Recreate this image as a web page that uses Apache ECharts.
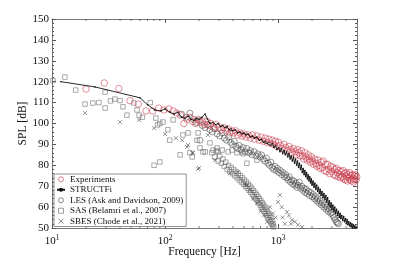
<!DOCTYPE html>
<html><head><meta charset="utf-8">
<script src="https://cdn.jsdelivr.net/npm/echarts@6/dist/echarts.min.js"></script>
<style>html,body{margin:0;padding:0;background:#fff}#c{width:395px;height:259px}</style>
</head><body><div id="c"></div>
<script>
// ---- data (frequency [Hz], SPL [dB]) ----
var seriesNames = ['Experiments', 'STRUCTFi', 'LES (Ask and Davidson, 2009)', 'SAS (Belamri et al., 2007)', 'SBES (Chode et al., 2021)'];
var xTickValues = [10, 100, 1000];
var yTickValues = [50, 60, 70, 80, 90, 100, 110, 120, 130, 140, 150];
var xMinorTicks = [20,30,40,50,60,70,80,90,200,300,400,500,600,700,800,900,2000,3000,4000];

var experiments = [[20,116.5],[29,119.4],[39,116.7],[49,110.9],[58,109.3],[68,106],[78,106],[88,107.4],[98,106.5],[108,107],[118,106],[127,105],[137,104],[147,100],[156,102],[166,103],[176,101],[186,100],[196,102],[205,100.5],[215,101],[225,99.5],[235,101],[245,99],[255,100],[270,98],[285,99.5],[300,98],[315,97],[330,98],[345,96.5],[360,97.5],[375,95.5],[390,96.5],[405,95.5],[420,96.5],[440,94.5],[460,95.5],[480,94],[500,95],[520,93.5],[545,94.5],[570,93],[595,94.5],[620,92.5],[650,94],[680,92],[710,93.5],[740,91.5],[770,93],[800,91],[830,92.5],[860,90.5],[890,92],[920,90],[950,91.5],[980,89],[1010,91],[1050,89.5],[1090,88],[1130,90],[1170,88.5],[1210,87],[1250,89],[1290,87.5],[1330,86],[1370,88],[1410,86.5],[1450,85],[1490,87.5],[1530,86],[1570,84.5],[1610,87],[1650,84.5],[1690,83],[1730,86],[1770,84],[1810,82.5],[1850,85],[1890,83],[1930,81.5],[1970,84],[2010,82],[2060,80.5],[2110,83],[2160,81],[2210,79.5],[2260,82.5],[2310,80],[2360,78.5],[2410,81.5],[2460,79],[2510,82],[2570,77.5],[2630,80.5],[2690,77],[2750,80.5],[2810,78],[2870,76],[2930,79.5],[2990,77],[3050,79],[3110,75.5],[3170,78],[3230,75],[3290,78.5],[3350,76.5],[3410,74.5],[3470,77.5],[3530,75.5],[3590,74],[3650,77],[3710,74.5],[3770,77.5],[3830,73.5],[3890,76],[3950,73],[4010,76.5],[4070,74.5],[4130,72.5],[4190,75.5],[4250,74],[4310,76.5],[4370,73],[4430,75],[4490,72.5],[4550,75.5],[4610,73.5],[4670,72],[4730,75],[4790,73.5],[4850,75.5],[4910,73],[4970,74.5]];

var structfi = [[12,120],[24,117.5],[60,112.3],[70,109],[81,106.5],[92,106],[100,107],[110,105.5],[120,104.5],[130,105.5],[140,103],[150,102.5],[160,103.5],[170,102],[180,101.5],[190,102.5],[200,102],[212,103],[226,104.5],[238,102],[250,100],[265,100.5],[280,99.5],[295,100],[310,98.5],[325,99],[340,98],[355,98.5],[370,97],[385,97.5],[400,96.5],[420,97],[440,95.5],[460,96],[480,95],[500,95.5],[520,94.5],[545,95],[570,93.5],[595,94],[620,93],[650,93.5],[680,92],[710,92.5],[740,91],[770,91.5],[800,90.5],[830,91],[860,89.5],[890,90.5],[920,88.5],[950,89.5],[980,87.5],[1010,88.5],[1040,86.5],[1070,88],[1100,85.5],[1130,87],[1160,85],[1190,86.5],[1220,84],[1250,85.5],[1280,83],[1310,84.5],[1340,82],[1370,84],[1400,81],[1430,83],[1460,80],[1490,82],[1520,79],[1550,81],[1580,78],[1610,80],[1640,76.5],[1670,78.5],[1700,75.5],[1730,77.5],[1760,74.5],[1790,76.5],[1820,73.5],[1850,75.5],[1880,72.5],[1910,74.5],[1940,71.5],[1970,73.5],[2000,70.5],[2040,72.5],[2080,69.5],[2120,71.5],[2160,68.5],[2200,70.5],[2240,67.5],[2280,69.5],[2320,66.5],[2360,68.5],[2400,65.5],[2450,67.5],[2500,64.5],[2550,66.5],[2600,63.5],[2650,65.5],[2700,62.5],[2750,64.5],[2800,61],[2850,63],[2900,60],[2950,62],[3000,59],[3060,61],[3120,58],[3180,60],[3240,57],[3300,59],[3360,56],[3420,58],[3480,55],[3540,57],[3600,54.5],[3670,56],[3740,53.5],[3810,55.5],[3880,53],[3950,54.5],[4020,52],[4090,54],[4160,51.5],[4230,53],[4300,51],[4370,52.5],[4440,50.5],[4510,52],[4580,50],[4650,51.5],[4720,49.8],[4790,51],[4860,49.5],[4930,50.5],[5000,49.5]];

var les = [[140,104.5],[155,103],[166,105],[178,102],[190,100.5],[202,101.5],[204,92],[214,99],[226,98],[238,99.5],[250,97],[262,96],[275,97.5],[290,95],[305,94],[320,95.5],[335,93],[350,92],[365,93.5],[380,91],[395,90],[410,91.5],[425,89],[440,88],[455,89.5],[470,87.5],[490,88.5],[510,86.5],[530,88],[550,86],[570,87],[590,85],[615,86.5],[640,84.5],[665,85.5],[690,84],[715,85],[740,83],[765,82],[790,83.5],[815,81],[840,80],[865,81.5],[890,79],[915,78],[940,79.5],[965,77.5],[990,78.5],[1020,76.5],[1050,77.5],[1080,75.5],[1110,76.5],[1140,74.5],[1170,75.5],[1200,74],[1230,73],[1260,74.5],[1290,72],[1320,73],[1350,71],[1380,72.5],[1410,70.5],[1440,71.5],[1470,69.5],[1500,70.5],[1540,72],[1580,69],[1620,70],[1660,68],[1700,69],[1740,67],[1780,68.5],[1820,66.5],[1860,67.5],[1900,65.5],[1950,67],[2000,65],[2050,66],[2100,64],[2150,65],[2200,63],[2250,64],[2300,62],[2360,63],[2420,61],[2480,62],[2540,60],[2600,61],[2660,59],[2720,60],[2780,58],[2850,59],[2920,57],[2990,57.5],[3060,56],[3130,55],[3200,54],[3280,53],[3350,52.5],[3420,52]];

var sas = [[10.2,120.5],[13,122.2],[16.2,116],[19.6,109.3],[23,109.8],[26,110],[29.5,107.4],[29.5,115],[33,110.8],[36,111.7],[40,111],[42.5,108],[46,104],[53,109.8],[56.5,106.5],[59,104],[63,103],[74,110],[80,80],[83,102.6],[86,99.3],[90,81.6],[90,100],[96,100.7],[106,97],[110,92],[118,101.7],[136,85],[144,94.5],[160,95.5],[166,86],[174,84],[192,92],[196,95.5],[204,88.3],[217,86.4],[227,86.4],[250,90.7],[266,87.3],[289,88.3],[294,86.4],[320,87.3],[362,86.4],[392,87.3],[433,86],[480,86.4],[490,85.5],[530,81],[565,86],[650,82.5],
[260,86],[275,84],[285,87],[295,82],[305,84.5],[315,81],[325,83],[335,79.5],[345,81.5],[355,78],[365,80],[375,77],[385,79],[395,76],[405,78],[415,75],[425,77],[435,74],[445,76],[455,73],[465,75],[475,72],[485,74],[495,71],[505,73],[515,70],[525,72],[535,69],[545,71],[555,68],[565,70],[575,67],[585,69],[595,66],[605,68],[615,65],[625,67],[635,64],[645,66],[655,63],[665,65],[675,62],[685,64],[695,61],[705,63],[715,60],[725,62],[735,59],[745,61],[755,58],[765,60],[775,57],[785,59],[795,56],[805,58],[815,55],[825,57],[835,54],[845,56],[855,53],[865,55],[875,52],[885,53.5],[895,51],[905,52],[915,50.5]];

var sbes = [[19.6,105],[40,100.7],[59,101.7],[80,97.8],[100,95],[125,93],[142,92],[157,88.8],[160,89.7],[174,86],[177,85.9],[196,78.2],[200,78.7],[240,94.5],[277,82.5],[375,76.2],[440,76.8],[510,70.6],[530,70.6],[560,68],[600,64],[650,62],[700,58],[750,56],[800,53],[850,60],[900,57],[950,55],[1000,62.4],[1040,65.8],[1080,60],[1100,55],[1150,52],[1200,57.7],[1250,56],[1300,52],[1330,53.8],[1410,53],[1500,51.5],[1630,50.5]];

// ---- chart ----
var FONT = 'Liberation Serif';
var chart = echarts.init(document.getElementById('c'), null, {renderer: 'canvas'});
var axisColor = '#555';
function sup(v) {
  if (xTickValues.indexOf(Math.round(v)) < 0) return '';
  return '{b|10}{s|' + Math.round(Math.log10(v)) + '}';
}
var crossPath = 'path://M0,0L10,10M10,0L0,10';
var squarePath = 'path://M0,0L10,0L10,10L0,10Z';
var circlePath = 'path://M10,5A5,5,0,1,1,0,5A5,5,0,1,1,10,5Z';
chart.setOption({
  animation: false,
  backgroundColor: '#fff',
  textStyle: {fontFamily: FONT},
  grid: {left: 52, right: 38, top: 19, bottom: 31, containLabel: false, outerBoundsMode: 'none'},
  legend: {
    orient: 'vertical', left: 54, top: 174,
    data: [
      {name: seriesNames[0], icon: circlePath, itemStyle: {borderWidth: 0.8}},
      {name: seriesNames[1]},
      {name: seriesNames[2], icon: circlePath, itemStyle: {borderWidth: 0.8}},
      {name: seriesNames[3], icon: squarePath, itemStyle: {borderWidth: 0.8}},
      {name: seriesNames[4], icon: crossPath, itemStyle: {borderWidth: 0.8}}
    ],
    symbolKeepAspect: true,
    backgroundColor: '#fff', borderColor: '#777', borderWidth: 0.8,
    padding: [0, 3, 0, 2], itemGap: 0, itemWidth: 8, itemHeight: 5,
    textStyle: {fontFamily: FONT, fontSize: 9, lineHeight: 10.5, color: '#111'}
  },
  xAxis: [{
    type: 'log', logBase: 10, min: 10, max: 5000,
    name: 'Frequency [Hz]', nameLocation: 'middle', nameGap: 18, nameMoveOverlap: false,
    nameTextStyle: {fontFamily: FONT, fontSize: 11.5, color: '#111'},
    axisLine: {show: true, lineStyle: {color: axisColor, width: 0.8}},
    axisTick: {show: true, inside: true, length: 4, lineStyle: {color: axisColor}},
    axisLabel: {
      showMaxLabel: false, margin: 6, formatter: sup,
      rich: {b: {fontFamily: FONT, fontSize: 11, color: '#111'},
             s: {fontFamily: FONT, fontSize: 7.5, color: '#111', padding: [0, 0, 7, 0]}}
    },
    splitLine: {show: false}
  }, {
    type: 'log', logBase: 10, min: 10, max: 5000, position: 'top',
    axisLine: {show: true, lineStyle: {color: axisColor, width: 0.8}},
    axisTick: {show: true, inside: true, length: 4, lineStyle: {color: axisColor}},
    axisLabel: {show: false}, splitLine: {show: false}
  }],
  yAxis: [{
    type: 'value', min: yTickValues[0], max: yTickValues[yTickValues.length - 1], interval: 10,
    name: 'SPL [dB]', nameLocation: 'middle', nameGap: 23, nameMoveOverlap: false,
    nameTextStyle: {fontFamily: FONT, fontSize: 11.5, color: '#111'},
    axisLine: {show: true, lineStyle: {color: axisColor, width: 0.8}},
    axisTick: {show: true, inside: true, length: 4, lineStyle: {color: axisColor}},
    minorTick: {show: true, splitNumber: 5, length: 2, lineStyle: {color: axisColor}},
    axisLabel: {fontFamily: FONT, fontSize: 11, color: '#111', margin: 3},
    splitLine: {show: false}
  }, {
    type: 'value', min: yTickValues[0], max: yTickValues[yTickValues.length - 1], interval: 10, position: 'right',
    axisLine: {show: true, lineStyle: {color: axisColor, width: 0.8}},
    axisTick: {show: true, inside: true, length: 4, lineStyle: {color: axisColor}},
    minorTick: {show: true, splitNumber: 5, length: 2, lineStyle: {color: axisColor}},
    axisLabel: {show: false}, splitLine: {show: false}
  }],
  series: [{
    name: seriesNames[2], type: 'scatter', data: les, symbol: 'circle', symbolSize: 6,
    itemStyle: {color: 'rgba(255,255,255,0)', borderColor: '#444', borderWidth: 0.7}
  }, {
    name: seriesNames[3], type: 'scatter', data: sas, symbol: 'rect', symbolSize: 4.5,
    itemStyle: {color: 'rgba(255,255,255,0)', borderColor: '#666', borderWidth: 0.7}
  }, {
    name: seriesNames[4], type: 'scatter', data: sbes, symbol: crossPath, symbolSize: 4,
    itemStyle: {color: 'rgba(255,255,255,0)', borderColor: '#444', borderWidth: 0.7}
  }, {
    name: seriesNames[0], type: 'scatter', data: experiments, symbol: 'circle', symbolSize: 6.5,
    itemStyle: {color: 'rgba(255,255,255,0)', borderColor: '#c8374a', borderWidth: 0.7}
  }, {
    name: seriesNames[1], type: 'line', data: structfi, symbol: 'circle', symbolSize: 1.6, showSymbol: true,
    lineStyle: {color: '#111', width: 0.9}, itemStyle: {color: '#111'}
  }, {
    type: 'custom', silent: true, clip: false,
    data: xMinorTicks.map(function (v) { return [v, 50]; }),
    encode: {x: 0, y: 1},
    renderItem: function (params, api) {
      var v = api.value(0);
      var b = api.coord([v, 50]);
      var t = api.coord([v, 150]);
      return {type: 'group', children: [
        {type: 'line', shape: {x1: b[0], y1: b[1], x2: b[0], y2: b[1] - 2}, style: {stroke: axisColor, lineWidth: 0.8}},
        {type: 'line', shape: {x1: t[0], y1: t[1], x2: t[0], y2: t[1] + 2}, style: {stroke: axisColor, lineWidth: 0.8}}
      ]};
    }
  }]
});
</script></body></html>
